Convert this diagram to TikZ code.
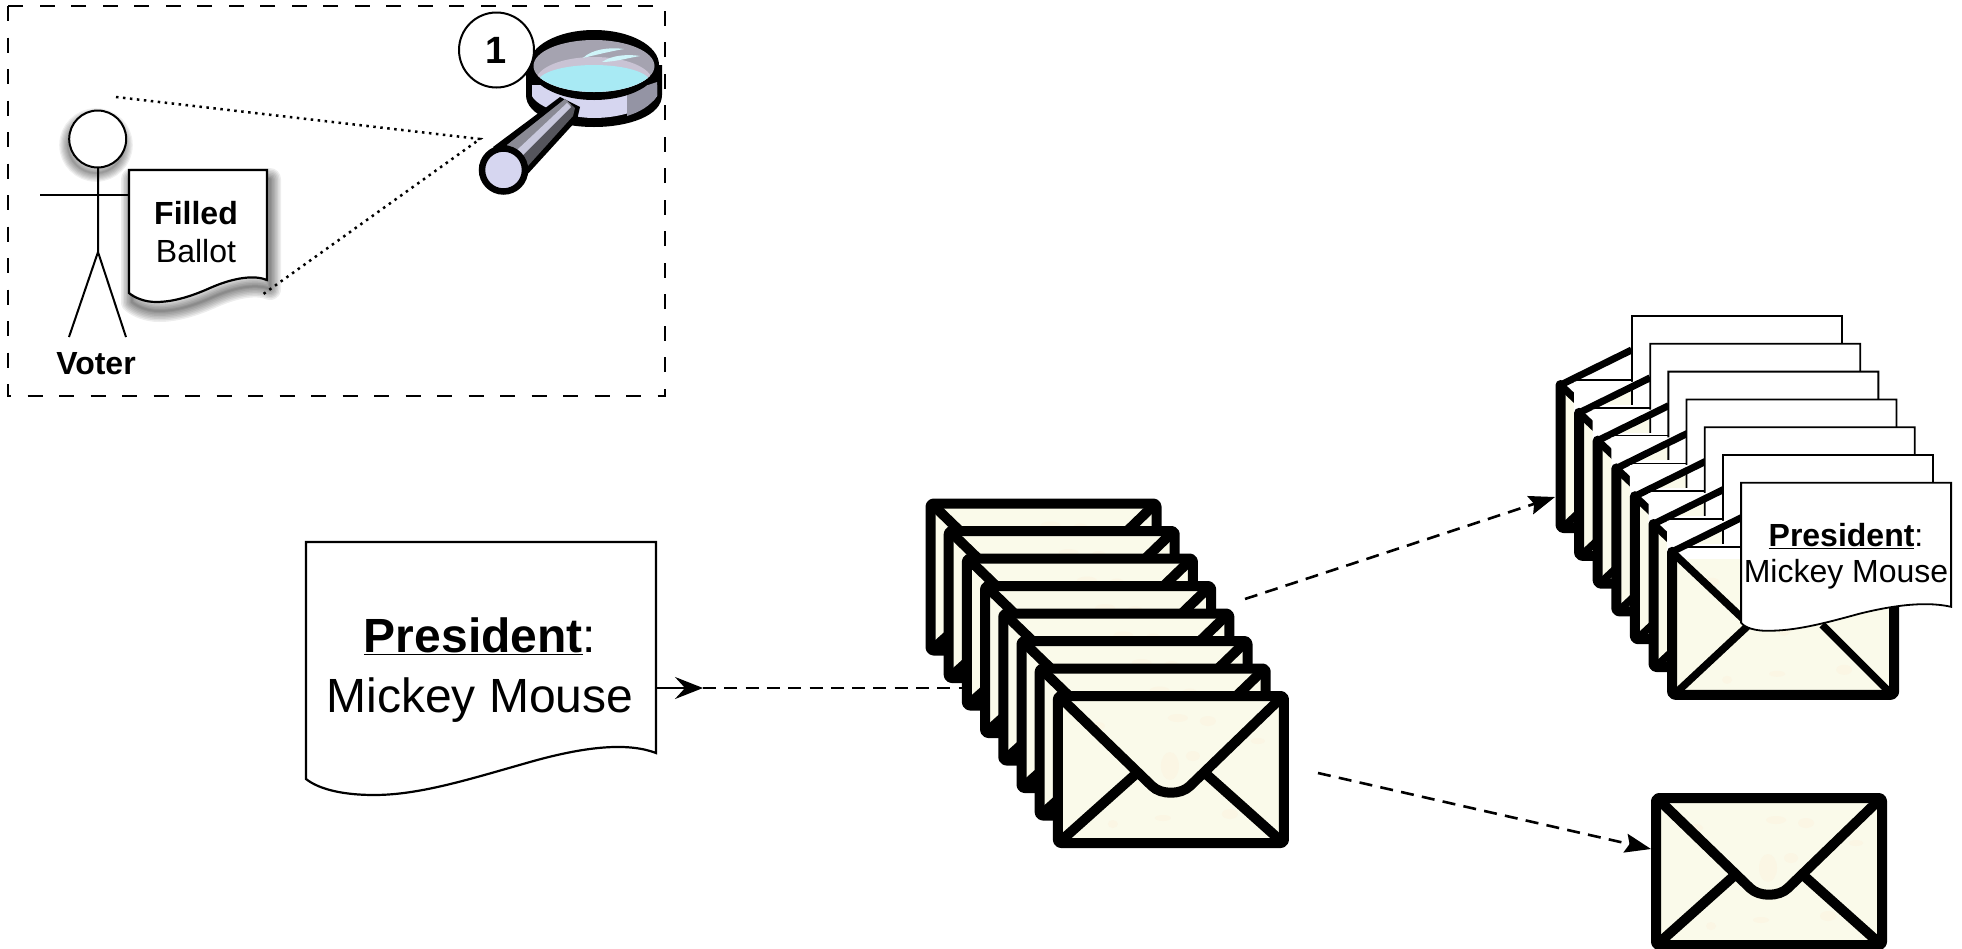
\documentclass[tikz,border=0pt]{standalone}
\usepackage{fontspec}
\setmainfont{Liberation Sans}
\usetikzlibrary{arrows.meta,calc}
\definecolor{cream}{HTML}{FAFAEA}
\definecolor{blot}{HTML}{FBF6E4}
\definecolor{lavmag}{HTML}{D6D6F0}
\definecolor{lensgray}{HTML}{A5A3B0}
\definecolor{lenslilac}{HTML}{C9C3D4}
\definecolor{lenscyan}{HTML}{A8EAF4}
\definecolor{handledark}{HTML}{55555C}
\definecolor{handlemid}{HTML}{8A8A94}
\definecolor{handlelight}{HTML}{C8C8DC}
\definecolor{rimshade}{HTML}{9494A4}
\newcommand{\fs}[1]{\fontsize{#1}{#1}\selectfont}
\tikzset{
  thickline/.style={line width=10pt,line join=round,line cap=round},
  docline/.style={draw=black,fill=white,line width=2.2pt,line join=miter},
  dashconn/.style={line width=2.6pt,dash pattern=on 13pt off 8.3pt},
  dotconn/.style={line width=2.5pt,dash pattern=on 2.5pt off 4.5pt},
  headtip/.style={-{Stealth[length=26pt,width=19pt,inset=4pt]}},
  txt/.style={inner sep=0pt,align=center},
  blobs/.pic={
    \fill[blot] (40,30) ellipse (7 and 4) (120,22) ellipse (10 and 4) (150,25) ellipse (8 and 5)
      (112,70) ellipse (9 and 14) (135,60) ellipse (7 and 5) (105,122) ellipse (8 and 3) (172,118) ellipse (8 and 5) (55,128) ellipse (5 and 4) (200,45) ellipse (7 and 3);
  },
  closedenv/.pic={
    \fill[cream,rounded corners=3pt] (0,0) rectangle (226,147);
    \pic at (0,0) {blobs};
    \draw[thickline,rounded corners=3pt] (0,0) rectangle (226,147);
    \draw[thickline] (4,3) -- (94,90) .. controls (103,99) and (123,99) .. (132,90) -- (222,3);
    \draw[thickline] (4,144) -- (79,77) (222,144) -- (147,77);
  },
  openenv/.pic={
    \fill[white] (-5,0) -- (-5,-31) -- (54,-31) -- (71,-35) -- (0,0) -- cycle;
    \fill[cream,rounded corners=3pt] (0,0) rectangle (222,143);
    \pic at (0,0) {blobs};
    \fill[white] (0,-8) rectangle (222,7);
    \draw[thickline,rounded corners=3pt] (0,0) -- (0,143) -- (222,143) -- (222,0);
    \draw[line width=7.5pt,line cap=butt] (2,2) -- (72,68) (220,2) -- (150,68);
    \draw[line width=7.5pt,line cap=butt] (4,141) -- (79,71) (218,141) -- (150,73);
    \draw[line width=1.5pt] (11,-5) -- (71,-5);
    \draw[line width=7pt,line cap=butt] (0,0) -- (71,-35);
    \draw[docline,line width=1.8pt] (\paperdx,-69) -- ({\paperdx+210},-69) -- ({\paperdx+210},55)
      .. controls ({\paperdx+188},50) and ({\paperdx+158},52) .. ({\paperdx+118},62)
      .. controls ({\paperdx+78},73) and ({\paperdx+53},79) .. ({\paperdx+26},79)
      .. controls ({\paperdx+14},79) and ({\paperdx+4},76) .. (\paperdx,71) -- cycle;
  },
}
\def\ballotpath{(129,170) -- (267,170) -- (267,280)
  .. controls (255,275) and (235,277) .. (210,288)
  .. controls (190,297) and (172,302) .. (156,302)
  .. controls (145,302) and (135,298) .. (129,293) -- cycle}
\begin{document}
\begin{tikzpicture}[x=1pt,y=-1pt]
\useasboundingbox (0,0) rectangle (1962,948);
\fill[white] (0,0) rectangle (1962,948);

% dashed frame
\draw[line width=2.5pt,dash pattern=on 15pt off 16.5pt] (8,6) rectangle (665,396);

% dotted view lines
\coordinate (viewa) at (116,97);
\coordinate (viewb) at (262,295);
\coordinate (viewc) at (480,139);
\draw[dotconn] (viewa) -- (viewc) -- (viewb);

% shadows
\foreach \w in {22,19,16,13,10,7,4,2}{
  \begin{scope}[shift={(3,9)}]
    \draw[black,opacity=.07,line width=\w pt,line join=round] \ballotpath;
  \end{scope}
  \draw[black,opacity=.06,line width=\w*0.8 pt] (96,145) circle (28);
}

% voter
\draw[line width=2pt] (98,167) -- (98,252) -- (69,337) (98,252) -- (126,337);
\draw[line width=2.4pt] (40,195) -- (129,195);
\node[circle,draw,fill=white,line width=2pt,minimum size=57pt,inner sep=0pt] (head) at (97.7,139) {};
\node[txt,font=\fs{32}\bfseries] (voter) at (96,364) {Voter};

% filled ballot
\draw[docline] \ballotpath;
\node[txt] (ballot) at (196,232) {{\fs{32}\bfseries Filled}\\[13pt]{\fs{32}Ballot}};

% magnifier
\begin{scope}
  % rim
  \fill[black] (526,65) -- (526,95) .. controls (526,116) and (560,127) .. (594,127) .. controls (628,127) and (662,116) .. (662,95) -- (662,65) -- cycle;
  \fill[lavmag] (532,85) -- (532,96) .. controls (538,108) and (570,118) .. (594,118) .. controls (622,118) and (650,108) .. (657,96) -- (657,85) -- cycle;
  \fill[rimshade] (627,92) -- (657,82) -- (657,96) .. controls (650,106) and (640,112) .. (627,116) -- cycle;
  % lens
  \fill[black] (594,65) ellipse (65 and 35);
  \begin{scope}
    \clip (594,66) ellipse (60.5 and 26);
    \fill[lensgray] (530,35) rectangle (660,95);
    \fill[lenslilac] (594,81) ellipse (58 and 24);
    \fill[lenscyan] (594,82) ellipse (56 and 17);
  \end{scope}
  \fill[lenscyan!55!white] (583,58) .. controls (592,49) and (610,47) .. (624,49) .. controls (612,51) and (595,55) .. (583,58) -- cycle;
  \fill[lenscyan!55!white] (602,62) .. controls (612,55) and (628,54) .. (640,56) .. controls (628,58) and (614,62) .. (602,62) -- cycle;
  % handle
  \fill[black] (493,147) -- (560,97) -- (580,107) -- (577,120) -- (525,177) -- cycle;
  \fill[handledark] (507,145) -- (565,99) -- (575,108) -- (573,116) -- (527,167) -- cycle;
  \fill[handlemid] (507,145) -- (565,99) -- (571,105) -- (518,156) -- cycle;
  \fill[handlelight] (517,150) -- (567,103) -- (571,107) -- (522,156) -- cycle;
  \filldraw[fill=lavmag,draw=black,line width=6.5pt] (503.5,170) circle (21.5);
\end{scope}
\node[circle,draw,fill=white,line width=2pt,minimum size=75pt,inner sep=0pt,font=\fs{38}\bfseries] (one) at (496.5,50) {1};

% president document
\draw[docline] (306,542) -- (656,542) -- (656,753)
  .. controls (630,743) and (590,745) .. (530,762)
  .. controls (470,779) and (420,795) .. (374,795)
  .. controls (345,795) and (320,790) .. (306,779) -- cycle;
\node[txt] (prez) at (480,670) {{\fs{48}\underline{\bfseries President}:}\\[21pt]{\fs{48}Mickey Mouse}};

% middle stack
\foreach \i in {0,...,7}{
  \pgfmathsetmacro{\xx}{930.5+18.2*\i}
  \pgfmathsetmacro{\yy}{503.5+27.5*\i}
  \pic at (\xx,\yy) {closedenv};
}

% right stack
\foreach \i in {0,...,6}{
  \pgfmathsetmacro{\xx}{1560.5+18.6*\i}
  \pgfmathsetmacro{\yy}{385+27.8*\i}
  \pgfmathsetmacro{\paperdx}{71.5-0.42*\i}
  \pic at (\xx,\yy) {openenv};
}
\node[txt] (prezb) at (1846,556) {{\fs{32}\underline{\bfseries President}:}\\[9.5pt]{\fs{32}Mickey Mouse}};

% single envelope
\pic at (1656,798) {closedenv};

% connectors
\coordinate (srcdoc) at (656,688);
\coordinate (tipa) at (703,688);
\coordinate (stackin) at (990,688);
\coordinate (stackout) at (1245,599);
\coordinate (opened) at (1555,497);
\coordinate (stacklow) at (1318,773);
\coordinate (single) at (1651,849);
\draw[line width=2.4pt,-{Stealth[length=28pt,width=22pt,inset=10pt]}] (srcdoc) -- (tipa);
\draw[dashconn] (tipa) -- (stackin);
\draw[dashconn,headtip] (stackout) -- (opened);
\draw[dashconn,headtip] (stacklow) -- (single);
\end{tikzpicture}
\end{document}
